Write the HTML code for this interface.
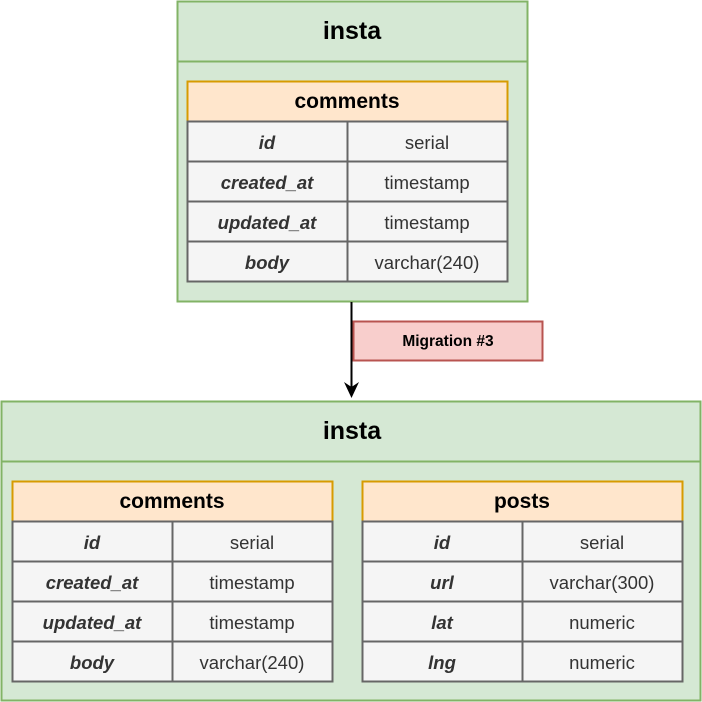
<!DOCTYPE html>
<html><head><style>body{margin:0;background:#fff}svg{display:block}text{font-family:"Liberation Sans",Arial,sans-serif}</style></head><body>
<svg width="702" height="702" viewBox="0 0 702 702" xmlns="http://www.w3.org/2000/svg">
<rect x="177.5" y="1.5" width="350" height="300" fill="#d5e8d4" stroke="#82b366" stroke-width="2"/>
<line x1="177.5" y1="61.5" x2="527.5" y2="61.5" stroke="#82b366" stroke-width="2"/>
<text x="352" y="39" font-size="25" font-weight="bold" text-anchor="middle">insta</text>
<g font-size="18.5" text-anchor="middle" fill="#333">
<rect x="187.5" y="81.5" width="320" height="40" fill="#ffe6cc" stroke="#d79b00" stroke-width="2"/>
<text x="347" y="108" font-size="21" font-weight="bold" fill="#000">comments</text>
<rect x="187.5" y="121.5" width="320" height="160" fill="#f5f5f5" stroke="#666" stroke-width="2"/>
<line x1="347.5" y1="121.5" x2="347.5" y2="281.5" stroke="#666" stroke-width="2"/>
<line x1="187.5" y1="161.5" x2="507.5" y2="161.5" stroke="#666" stroke-width="2"/>
<line x1="187.5" y1="201.5" x2="507.5" y2="201.5" stroke="#666" stroke-width="2"/>
<line x1="187.5" y1="241.5" x2="507.5" y2="241.5" stroke="#666" stroke-width="2"/>
<g font-weight="bold" font-style="italic">
<text x="267" y="149">id</text><text x="267" y="189">created_at</text><text x="267" y="229">updated_at</text><text x="267" y="269">body</text>
</g>
<text x="427" y="149">serial</text><text x="427" y="189">timestamp</text><text x="427" y="229">timestamp</text><text x="427" y="269">varchar(240)</text>
</g>
<line x1="351.5" y1="302" x2="351.5" y2="390" stroke="#000" stroke-width="2"/>
<path d="M344,382 L351.5,398 L359,382 L351.5,387 Z" fill="#000"/>
<rect x="353.5" y="321.5" width="189" height="39" fill="#f8cecc" stroke="#b85450" stroke-width="2"/>
<text x="448" y="346" font-size="15.5" font-weight="bold" text-anchor="middle">Migration #3</text>
<rect x="1.5" y="401.5" width="699" height="299" fill="#d5e8d4" stroke="#82b366" stroke-width="2"/>
<line x1="1.5" y1="461.5" x2="700.5" y2="461.5" stroke="#82b366" stroke-width="2"/>
<text x="352" y="439" font-size="25" font-weight="bold" text-anchor="middle">insta</text>
<g font-size="18.5" text-anchor="middle" fill="#333">
<rect x="12.5" y="481.5" width="320" height="40" fill="#ffe6cc" stroke="#d79b00" stroke-width="2"/>
<text x="172" y="508" font-size="21" font-weight="bold" fill="#000">comments</text>
<rect x="12.5" y="521.5" width="320" height="160" fill="#f5f5f5" stroke="#666" stroke-width="2"/>
<line x1="172.5" y1="521.5" x2="172.5" y2="681.5" stroke="#666" stroke-width="2"/>
<line x1="12.5" y1="561.5" x2="332.5" y2="561.5" stroke="#666" stroke-width="2"/>
<line x1="12.5" y1="601.5" x2="332.5" y2="601.5" stroke="#666" stroke-width="2"/>
<line x1="12.5" y1="641.5" x2="332.5" y2="641.5" stroke="#666" stroke-width="2"/>
<g font-weight="bold" font-style="italic">
<text x="92" y="549">id</text><text x="92" y="589">created_at</text><text x="92" y="629">updated_at</text><text x="92" y="669">body</text>
</g>
<text x="252" y="549">serial</text><text x="252" y="589">timestamp</text><text x="252" y="629">timestamp</text><text x="252" y="669">varchar(240)</text>
<rect x="362.5" y="481.5" width="320" height="40" fill="#ffe6cc" stroke="#d79b00" stroke-width="2"/>
<text x="522" y="508" font-size="21" font-weight="bold" fill="#000">posts</text>
<rect x="362.5" y="521.5" width="320" height="160" fill="#f5f5f5" stroke="#666" stroke-width="2"/>
<line x1="522.5" y1="521.5" x2="522.5" y2="681.5" stroke="#666" stroke-width="2"/>
<line x1="362.5" y1="561.5" x2="682.5" y2="561.5" stroke="#666" stroke-width="2"/>
<line x1="362.5" y1="601.5" x2="682.5" y2="601.5" stroke="#666" stroke-width="2"/>
<line x1="362.5" y1="641.5" x2="682.5" y2="641.5" stroke="#666" stroke-width="2"/>
<g font-weight="bold" font-style="italic">
<text x="442" y="549">id</text><text x="442" y="589">url</text><text x="442" y="629">lat</text><text x="442" y="669">lng</text>
</g>
<text x="602" y="549">serial</text><text x="602" y="589">varchar(300)</text><text x="602" y="629">numeric</text><text x="602" y="669">numeric</text>
</g>
</svg>
</body></html>
